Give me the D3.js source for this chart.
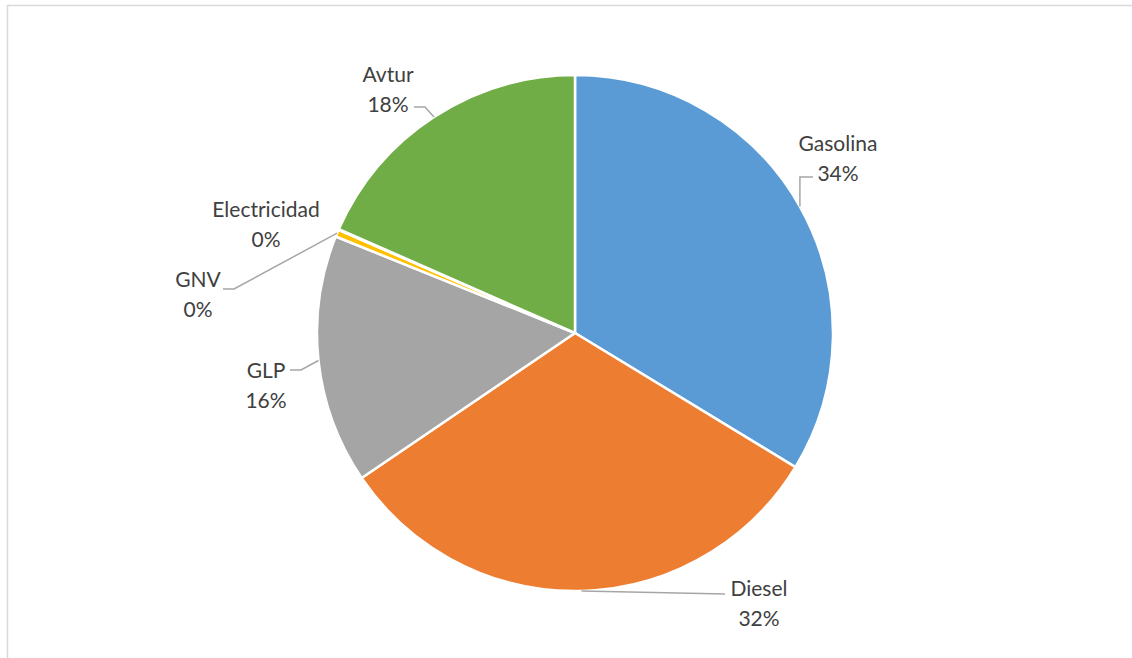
<!DOCTYPE html>
<html>
<head>
<meta charset="utf-8">
<script src="https://cdn.jsdelivr.net/npm/d3@7"></script>
<style>
  body { margin: 0; background: #fff; }
  text { font-family: Lato, "Open Sans", sans-serif; }
</style>
</head>
<body>
<svg id="chart"></svg>
<script>
// Share of each fuel (percent)
const fuels = ["Gasolina", "Diesel", "GLP", "GNV", "Electricidad", "Avtur"];
const shares = [33.7, 31.8, 15.6, 0.45, 0.05, 18.4];
const fuelColors = ["#5B9BD5", "#ED7D31", "#A5A5A5", "#FFC000", "#4472C4", "#70AD47"];

// Label placement (Excel "best fit" style), text centre x / first baseline y,
// and leader line start point (null = no leader)
const labelPos = {
  Gasolina:     { x: 838, y: 151, lead: [813, 177] },
  Diesel:       { x: 759, y: 596, lead: [725, 594] },
  GLP:          { x: 266, y: 378, lead: [290, 370] },
  GNV:          { x: 198, y: 287, lead: [223, 289] },
  Electricidad: { x: 266, y: 217, lead: null },
  Avtur:        { x: 388, y: 82,  lead: [414, 107] }
};

const width = 1132;
const height = 658;
const cx = 575;
const cy = 333;
const radius = 258;

const svg = d3.select("#chart")
  .attr("width", width)
  .attr("height", height)
  .attr("viewBox", [0, 0, width, height]);

// chart area border (only top and left edges show in the crop)
svg.append("rect")
  .attr("x", 7.5)
  .attr("y", 5.5)
  .attr("width", width + 20)
  .attr("height", height + 20)
  .attr("fill", "none")
  .attr("stroke", "#D9D9D9")
  .attr("stroke-width", 1.5);

const data = fuels.map((f, i) => ({ name: f, value: shares[i], color: fuelColors[i] }));
const total = d3.sum(data, d => d.value);

const pie = d3.pie().sort(null).value(d => d.value);
const arcs = pie(data);

const arc = d3.arc().innerRadius(0).outerRadius(radius);

const g = svg.append("g").attr("transform", `translate(${cx},${cy})`);

g.selectAll("path")
  .data(arcs)
  .join("path")
  .attr("d", arc)
  .attr("fill", d => d.data.color)
  .attr("stroke", "#fff")
  .attr("stroke-width", 2.5)
  .attr("stroke-linejoin", "round");

const pct = d3.format(".0%");

// leader lines: label point -> short horizontal -> slice edge at mid angle
arcs.forEach(a => {
  const p = labelPos[a.data.name];
  if (!p.lead) return;
  const mid = (a.startAngle + a.endAngle) / 2;
  const ex = cx + radius * Math.sin(mid);
  const ey = cy - radius * Math.cos(mid);
  const [lx, ly] = p.lead;
  const pts = [[lx, ly]];
  if (a.data.name === "Gasolina") {
    pts.push([ex, ly]);
  } else if (a.data.name !== "Diesel") {
    pts.push([lx + 11, ly]);
  }
  pts.push([ex, ey]);
  svg.append("path")
    .attr("d", d3.line()(pts))
    .attr("fill", "none")
    .attr("stroke", "#A6A6A6")
    .attr("stroke-width", 1.5);
});

// data labels
const labels = svg.append("g")
  .attr("font-size", 21)
  .attr("fill", "#404040")
  .attr("text-anchor", "middle");

arcs.forEach(a => {
  const p = labelPos[a.data.name];
  const t = labels.append("text").attr("x", p.x).attr("y", p.y);
  t.append("tspan").attr("x", p.x).text(a.data.name);
  t.append("tspan").attr("x", p.x).attr("dy", 30).text(pct(a.data.value / total));
});
</script>
</body>
</html>
